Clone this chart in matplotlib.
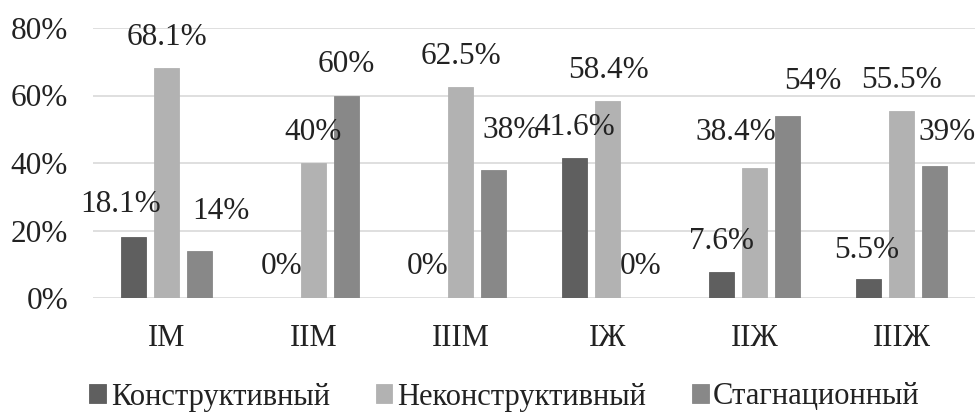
import matplotlib
matplotlib.use("Agg")
import matplotlib.pyplot as plt
import numpy as np

categories = ["IМ", "IIМ", "IIIМ", "IЖ", "IIЖ", "IIIЖ"]
series_names = ["Конструктивный", "Неконструктивный", "Стагнационный"]
konstr = [18.1, 0, 0, 41.6, 7.6, 5.5]
nekonstr = [68.1, 40, 62.5, 58.4, 38.4, 55.5]
stagn = [14, 60, 38, 0, 54, 39]
label_texts = [
    ["18.1%", "0%", "0%", "41.6%", "7.6%", "5.5%"],
    ["68.1%", "40%", "62.5%", "58.4%", "38.4%", "55.5%"],
    ["14%", "60%", "38%", "0%", "54%", "39%"],
]
yticks = [0, 20, 40, 60, 80]

# style: label nudges in pixels (dx, extra dy)
nudge_x = [
    [-13, 1, 0, 0, 0, -2],
    [0, 0, 0, 1, -19, 0],
    [22, 0, 18, 0, 25, 13],
]
nudge_y = [
    [1, 0, 0, -1, 0, -2],
    [0, 0, 0, -1, 5, -1],
    [8, 0, 8, 0, 3, 3],
]
colors = ["#5f5f5f", "#b2b2b2", "#888888"]

DPI = 100
plt.rcParams["font.family"] = ["Liberation Serif", "DejaVu Serif"]
fig = plt.figure(figsize=(9.76, 4.12), dpi=DPI)
ax = fig.add_axes([93 / 976, 114 / 412, 882 / 976, 270 / 412])

data = [konstr, nekonstr, stagn]
x = np.arange(len(categories))
width = 0.17
step = 0.224
txtcol = "#222222"
px2pt = 72 / DPI
for i, (vals, name, col) in enumerate(zip(data, series_names, colors)):
    pos = x + (i - 1) * step
    ax.bar(pos, vals, width, color=col, label=name, zorder=3,
           edgecolor=col, linewidth=0.6)
    for j, (p, v) in enumerate(zip(pos, vals)):
        ax.annotate(label_texts[i][j], (p, v),
                    xytext=(nudge_x[i][j] * px2pt, (31 + nudge_y[i][j]) * px2pt),
                    textcoords="offset points", ha="center", va="center",
                    fontsize=22.5, color=txtcol, zorder=4)

ax.set_xlim(-0.5, len(categories) - 0.5)
ax.set_ylim(0, 80)
ax.set_yticks(yticks)
ax.set_yticklabels([f"{t}%" for t in yticks])
ax.set_xticks(x)
ax.set_xticklabels(categories)
ax.tick_params(axis="y", length=0, pad=18, labelsize=22.5, labelcolor=txtcol)
ax.tick_params(axis="x", length=0, pad=19, labelsize=22, labelcolor=txtcol)
ax.grid(axis="y", color="#dcdcdc", linewidth=1.3, zorder=0)
for s in ax.spines.values():
    s.set_visible(False)

leg = fig.legend(loc="center", bbox_to_anchor=(0.517, 1 - 397 / 412), ncol=3,
                 frameon=False, fontsize=22, handlelength=0.55, handleheight=0.55,
                 handletextpad=0.15, columnspacing=1.5, labelcolor=txtcol)

fig.savefig("out.png", dpi=DPI)
